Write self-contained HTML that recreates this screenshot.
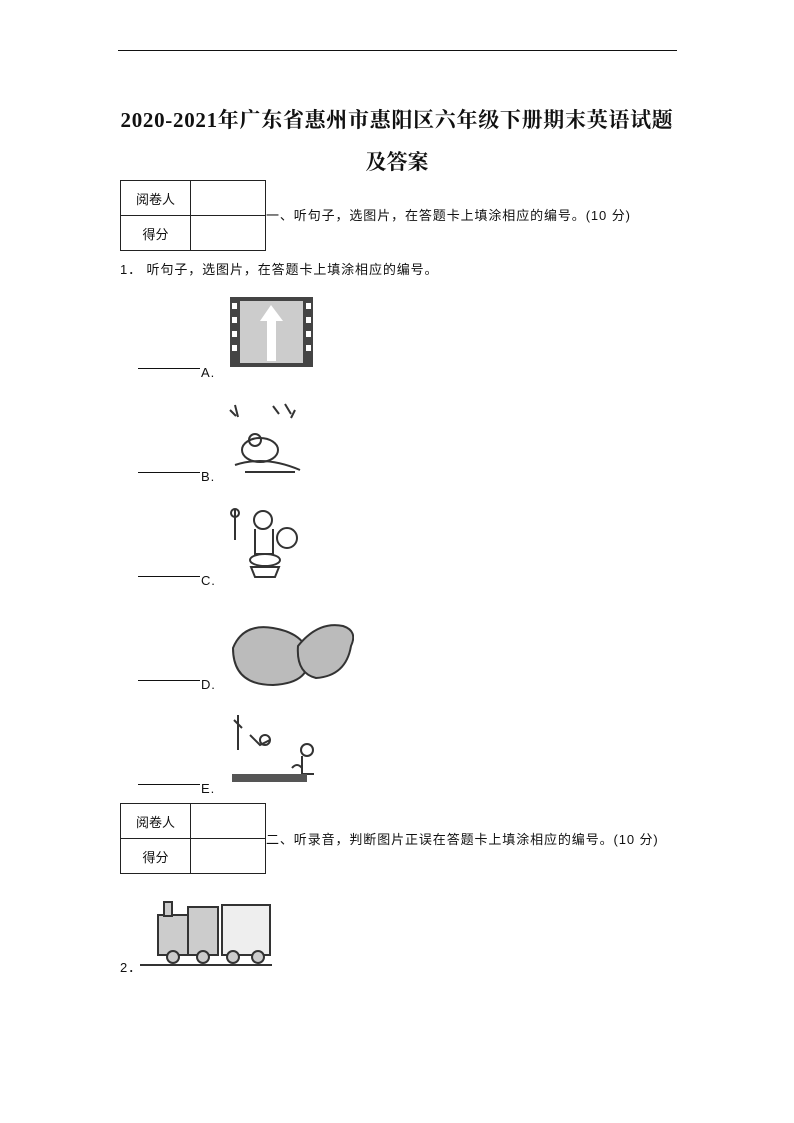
<!DOCTYPE html>
<html><head><meta charset="utf-8"><style>
body{margin:0;background:#fff;}
.p{position:relative;width:794px;height:1123px;font-family:"Liberation Serif","Noto Serif CJK SC","Noto Sans CJK SC",serif;color:#111;}
.a{position:absolute;white-space:nowrap;}
.t{font-size:21px;font-weight:bold;}
.s{font-size:13px;font-family:"Liberation Sans","Noto Sans CJK SC",sans-serif;letter-spacing:0.9px;}
table{position:absolute;border-collapse:collapse;}
td{border:1px solid #222;font-size:13px;font-family:"Noto Sans CJK SC",sans-serif;text-align:center;padding:0;}
.u{position:absolute;border-bottom:1px solid #111;width:62px;}
</style></head><body><div class="p">
<div class="a" style="left:118px;top:50px;width:559px;border-top:1px solid #111"></div>
<div class="a t" style="left:100px;top:104px;width:594px;text-align:center;letter-spacing:0.7px">2020-2021年广东省惠州市惠阳区六年级下册期末英语试题</div>
<div class="a t" style="left:0;top:146px;width:794px;text-align:center">及答案</div>

<table style="left:120px;top:180px"><tr><td style="width:69px;height:34px">阅卷人</td><td style="width:74px"></td></tr><tr><td style="height:34px">得分</td><td></td></tr></table>
<div class="a s" style="left:266px;top:205px">一、听句子，选图片，在答题卡上填涂相应的编号。(10 分)</div>
<div class="a s" style="left:120px;top:259px">1． 听句子，选图片，在答题卡上填涂相应的编号。</div>

<svg class="a" style="left:230px;top:297px" width="83" height="70"><rect x="0" y="0" width="83" height="70" fill="#444"/><rect x="10" y="4" width="63" height="62" fill="#ccc"/><path d="M41 8 L30 24 L37 24 L37 64 L46 64 L46 24 L53 24 Z" fill="#fff"/><g fill="#fff"><rect x="2" y="6" width="5" height="6"/><rect x="2" y="20" width="5" height="6"/><rect x="2" y="34" width="5" height="6"/><rect x="2" y="48" width="5" height="6"/><rect x="76" y="6" width="5" height="6"/><rect x="76" y="20" width="5" height="6"/><rect x="76" y="34" width="5" height="6"/><rect x="76" y="48" width="5" height="6"/></g></svg>
<div class="u" style="left:138px;top:368px"></div><div class="a s" style="left:201px;top:365px">A.</div>

<svg class="a" style="left:225px;top:400px" width="82" height="78"><g fill="none" stroke="#333" stroke-width="2"><path d="M5 10 l6 6 M10 5 l3 12 M48 6 l6 8 M60 4 l6 10 M70 10 l-4 8"/><ellipse cx="35" cy="50" rx="18" ry="12"/><path d="M10 65 q30 -10 65 5 M20 72 l50 0"/><circle cx="30" cy="40" r="6"/></g></svg>
<div class="u" style="left:138px;top:472px"></div><div class="a s" style="left:201px;top:469px">B.</div>

<svg class="a" style="left:225px;top:505px" width="78" height="76"><g fill="none" stroke="#333" stroke-width="2"><circle cx="38" cy="15" r="9"/><path d="M30 24 l0 25 l18 0 l0 -25"/><ellipse cx="40" cy="55" rx="15" ry="6"/><path d="M26 62 l28 0 l-4 10 l-20 0z"/><circle cx="62" cy="33" r="10"/><path d="M10 5 l0 30"/><circle cx="10" cy="8" r="4"/></g></svg>
<div class="u" style="left:138px;top:576px"></div><div class="a s" style="left:201px;top:573px">C.</div>

<svg class="a" style="left:228px;top:618px" width="126" height="72"><g stroke="#333" stroke-width="2" fill="#bbb"><path d="M5 30 q10 -25 40 -20 q30 5 35 25 q5 30 -35 32 q-40 0 -40 -37z"/><path d="M70 28 q20 -25 45 -20 q15 5 8 20 q-5 30 -35 32 q-20 -5 -18 -32z"/></g></svg>
<div class="u" style="left:138px;top:680px"></div><div class="a s" style="left:201px;top:677px">D.</div>

<svg class="a" style="left:230px;top:710px" width="102" height="76"><g fill="none" stroke="#333" stroke-width="2"><path d="M8 5 l0 35 M4 10 l8 8 M20 25 l10 10 l10 -5"/><circle cx="35" cy="30" r="5"/><circle cx="77" cy="40" r="6"/><path d="M72 46 l0 18 l12 0 M62 58 q5 -6 10 0"/></g><rect x="2" y="64" width="75" height="8" fill="#555"/></svg>
<div class="u" style="left:138px;top:784px"></div><div class="a s" style="left:201px;top:781px">E.</div>

<table style="left:120px;top:803px"><tr><td style="width:69px;height:34px">阅卷人</td><td style="width:74px"></td></tr><tr><td style="height:34px">得分</td><td></td></tr></table>
<div class="a s" style="left:266px;top:829px">二、听录音，判断图片正误在答题卡上填涂相应的编号。(10 分)</div>

<svg class="a" style="left:138px;top:897px" width="136" height="70"><g stroke="#333" stroke-width="2" fill="#ccc"><rect x="20" y="18" width="30" height="40"/><rect x="26" y="5" width="8" height="14"/><rect x="50" y="10" width="30" height="48"/><rect x="84" y="8" width="48" height="50" fill="#eee"/><circle cx="35" cy="60" r="6"/><circle cx="65" cy="60" r="6"/><circle cx="95" cy="60" r="6"/><circle cx="120" cy="60" r="6"/></g><line x1="2" y1="68" x2="134" y2="68" stroke="#333" stroke-width="2"/></svg>
<div class="a s" style="left:120px;top:957px">2．</div>
</div></body></html>
